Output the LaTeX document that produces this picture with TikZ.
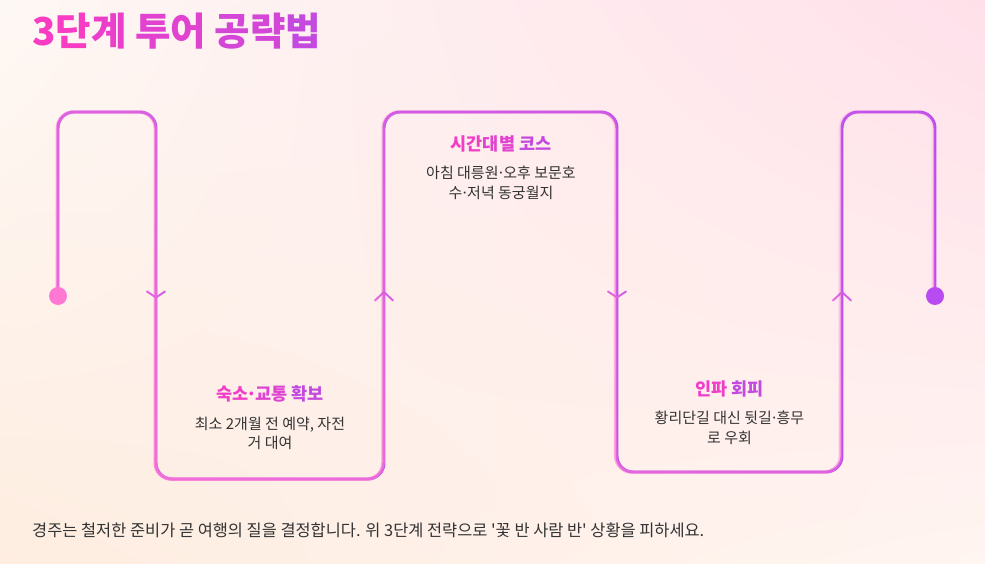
\documentclass[tikz,border=0pt]{standalone}
\usepackage{fontspec}
\setmainfont{Noto Sans CJK KR}
\usetikzlibrary{fadings,shadings}

% pink end of the trail fades out towards the upper right
\begin{tikzfadingfrompicture}[name=trailfade]
  \shade[bottom color=transparent!0,middle color=transparent!40,top color=transparent!100,shading angle=-50]
    (-50bp,-50bp) rectangle (50bp,50bp);
\end{tikzfadingfrompicture}
\newcommand\mdot{\kern-.12em·\kern-.12em}

\begin{document}
\begin{tikzpicture}[x=1pt,y=1pt]
\definecolor{trailpink}{HTML}{FF78D4}\definecolor{trailpurple}{HTML}{B84CF0}
\definecolor{hotpink}{HTML}{F83CC4}\definecolor{violet}{HTML}{C44ADF}
\definecolor{body}{HTML}{333333}
\definecolor{bgtl}{HTML}{FEF8F4}\definecolor{bgtr}{HTML}{FFE0EA}
\definecolor{bgbl}{HTML}{FEEDE0}\definecolor{bgbr}{HTML}{FFF5F1}
\tikzset{
  trail/.style={draw=trailpurple,line width=#1*0.85,line join=round,
    postaction={draw=trailpink,line width=#1,path fading=trailfade}},
  trail/.default=3.5,
  chevron/.style={trail=2,line cap=round},
  dot/.style={circle,inner sep=0,minimum size=18},
  heading/.style={font=\fontsize{17.5}{20}\selectfont\bfseries},
  blurb/.style={align=center,text=body,font=\fontsize{15}{19.5}\selectfont},
}
\shade[upper left=bgtl,upper right=bgtr,lower left=bgbl,lower right=bgbr] (0,0) rectangle (985,564);
\useasboundingbox (0,0) rectangle (985,564);
\node[anchor=west,inner sep=0,font=\fontsize{38.5}{42}\selectfont\bfseries] (title) at (32,533)
  {\textcolor{hotpink}{3단}\textcolor{hotpink!75!violet}{계 }\textcolor{hotpink!55!violet}{투어 }\textcolor{hotpink!30!violet}{공략}\textcolor{violet}{법}};
\coordinate (start) at (58,268);
\coordinate (finish) at (935,268);
\draw[trail,rounded corners=16] (start) -- (58,452) -- (156,452) -- (156,85) -- (384,85) -- (384,452)
  -- (617,452) -- (617,92) -- (842,92) -- (842,452) -- (935,452) -- (finish);
\draw[chevron] (147,272.5) -- (156,266.5) -- (165,272.5);
\draw[chevron] (375,263.5) -- (384,272) -- (393,263.5);
\draw[chevron] (608,272.5) -- (617,266.5) -- (626,272.5);
\draw[chevron] (833,263.5) -- (842,272) -- (851,263.5);
\node[dot,fill=trailpink] (startdot) at (start) {};
\node[dot,fill=trailpurple] (finishdot) at (finish) {};
% three stops
\node[heading] (stay) at (270,170)
  {\textcolor{hotpink!90!violet}{숙소\mdot}\textcolor{hotpink!50!violet}{교통 }\textcolor{violet}{확보}};
\node[blurb] (stayblurb) at (270,130.5) {최소 2개월 전 예약, 자전\\거 대여};
\node[heading] (course) at (501,420)
  {\textcolor{hotpink!90!violet}{시간}\textcolor{hotpink!55!violet}{대별 }\textcolor{violet}{코스}};
\node[blurb] (courseblurb) at (501,381) {아침 대릉원\mdot 오후 보문호\\수\mdot 저녁 동궁월지};
\node[heading] (crowd) at (729.5,175)
  {\textcolor{hotpink!85!violet}{인파 }\textcolor{violet}{회피}};
\node[blurb] (crowdblurb) at (729.5,136) {황리단길 대신 뒷길\mdot 흥무\\로 우회};
\node[anchor=west,inner sep=0,text=body,font=\fontsize{16.4}{18}\selectfont] (footer) at (32,34)
  {경주는 철저한 준비가 곧 여행의 질을 결정합니다. 위 3단계 전략으로 \textquotesingle 꽃 반 사람 반\textquotesingle\ 상황을 피하세요.};
\end{tikzpicture}
\end{document}
